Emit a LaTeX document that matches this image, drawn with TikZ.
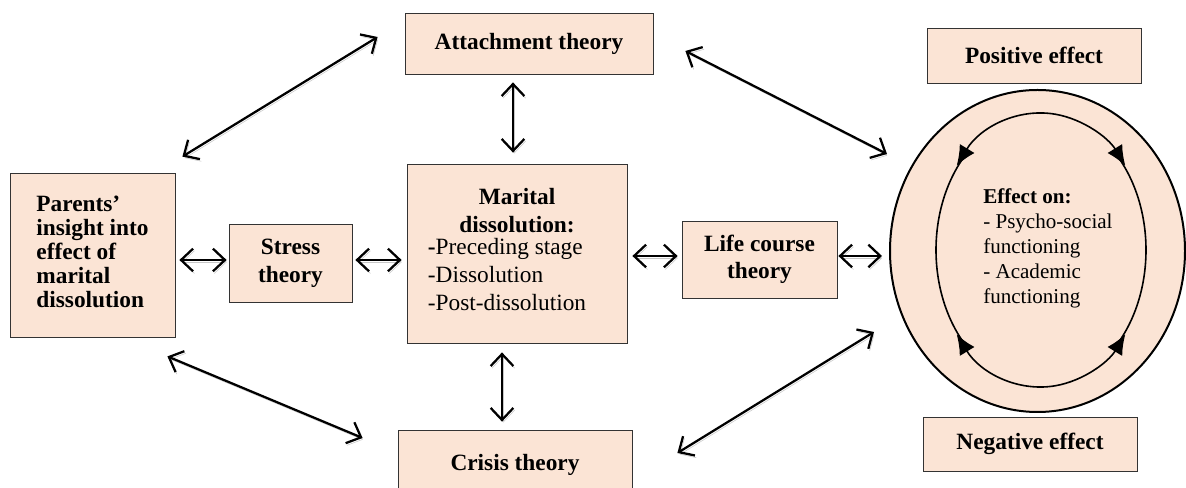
\documentclass[tikz,border=0pt]{standalone}
\usepackage{fontspec}
\setmainfont{Liberation Serif}
\usepackage{tikz}
\usetikzlibrary{arrows.meta,shapes.geometric,positioning}
\definecolor{peach}{HTML}{FBE4D5}
\tikzset{
        box/.style = {draw=black!80, fill=peach, line width=0.6pt,
            inner sep=0pt, align=center,
            font=\bfseries\fontsize{17.5}{18}\selectfont},
        link/.style = {draw, line width=1.7pt,
            {Straight Barb[length=9pt,width=17pt]}-{Straight Barb[length=9pt,width=17pt]},
            preaction={draw=black!22, transform canvas={shift={(1pt,-1.6pt)}}}},
        cycle/.style = {draw, line width=1.2pt,
            {Latex[length=15pt,width=13pt]}-{Latex[length=15pt,width=13pt]}},
    }

\begin{document}
\begin{tikzpicture}[x=0.75pt,y=0.75pt]
        \useasboundingbox (0,0) rectangle (1186,488);
        \clip (0,0) rectangle (1186,488);

        \node[box, minimum width=186pt, minimum height=45.75pt] (attach) at (529,444.5) {Attachment theory};
        \node[box, minimum width=123.75pt, minimum height=123pt] (parents) at (92.5,233)
            {\begin{tabular}{@{}l@{}}Parents’\\insight into\\effect of\\marital\\dissolution\end{tabular}};
        \node[box, minimum width=92.25pt, minimum height=58.5pt, font=\bfseries\fontsize{17.5}{21}\selectfont] (stress) at (290.5,225) {Stress\\theory};
        \node[box, minimum width=165pt, minimum height=134.25pt, font=\bfseries\fontsize{17.5}{21}\selectfont] (marital) at (517,234.5)
            {Marital\\dissolution:\\[1pt]\normalfont\begin{tabular}{@{}l@{}}\textbf{-}Preceding stage\\-Dissolution\\-Post-dissolution\end{tabular}\hspace*{15pt}};
        \node[box, minimum width=116.25pt, minimum height=57.75pt, font=\bfseries\fontsize{17.5}{20.5}\selectfont] (life) at (759.5,228.5) {Life course\\theory};
        \node[box, minimum width=175.5pt, minimum height=52.5pt] (crisis) at (515,23) {Crisis theory};

        \node[box, minimum width=160.5pt, minimum height=41.25pt] (positive) at (1034,432.5) {Positive effect};
        \node[box, minimum width=160.5pt, minimum height=40.5pt] (negative) at (1030,44) {Negative effect};
        \node[ellipse, draw, fill=peach, line width=1.5pt, inner sep=0pt,
            minimum width=221.25pt, minimum height=241.5pt] (effect) at (1037.5,237) {};
        \coordinate (ring) at (1041,238);
        \node[inner sep=0pt, anchor=west, align=left, font=\fontsize{15.8}{18.75}\selectfont] (effecttxt) at (983,240)
            {\textbf{Effect on:}\\- Psycho-social\\functioning\\- Academic\\functioning};

        \draw[cycle] ([shift={(142:107 and 137)}]ring) arc[start angle=142, end angle=38, x radius=107, y radius=137];
        \draw[cycle] ([shift={(218:107 and 137)}]ring) arc[start angle=218, end angle=322, x radius=107, y radius=137];
        \draw[line width=1.2pt] ([shift={(135:105 and 137)}]ring) arc[start angle=135, end angle=225, x radius=105, y radius=137];
        \draw[line width=1.2pt] ([shift={(45:105 and 137)}]ring) arc[start angle=45, end angle=-45, x radius=105, y radius=137];

        \draw[link] ([shift={(-27,6.5)}]attach.west) -- ([shift={(7,16)}]parents.north east);
        \draw[link] ([shift={(-8,-19)}]parents.south east) -- ([shift={(-35,27)}]crisis.west);
        \draw[link] ([shift={(32,-7.5)}]attach.east) -- ([shift={(-2,97)}]effect.west);
        \draw[link] ([shift={(45,12)}]crisis.east) -- ([shift={(-15,-81)}]effect.west);
        \draw[link] ([shift={(-16,-8)}]attach.south) -- ([shift={(-4,11)}]marital.north);
        \draw[link] ([shift={(-15,-9)}]marital.south) -- ([shift={(-13,8)}]crisis.north);
        \draw[link] ([shift={(4,-5)}]parents.east) -- ([shift={(-2,3)}]stress.west);
        \draw[link] ([shift={(3,3)}]stress.east) -- ([shift={(-5,-6.5)}]marital.west);
        \draw[link] ([shift={(5,-2.5)}]marital.east) -- ([shift={(-4,3.5)}]life.west);
        \draw[link] ([shift={(1,3.5)}]life.east) -- ([shift={(-7,-5)}]effect.west);
\end{tikzpicture}
\end{document}
